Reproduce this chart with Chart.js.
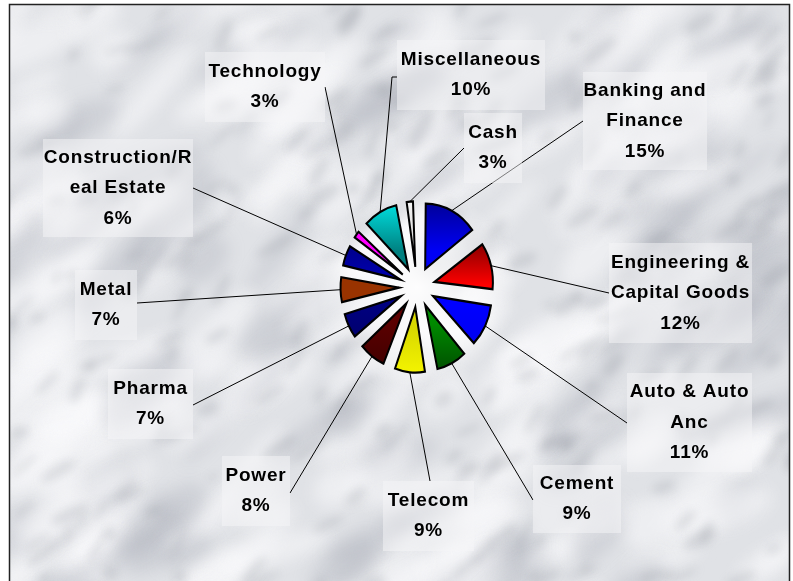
<!DOCTYPE html>
<html>
<head>
<meta charset="utf-8">
<script src="https://cdn.jsdelivr.net/npm/chart.js@4.4.0/dist/chart.umd.min.js"></script>
<style>
	html, body { margin: 0; padding: 0; background: #fff; }
</style>
</head>
<body>
<canvas id="grafico-torta" width="793" height="581"></canvas>
<script>
// dati
var categorie = ['Banking and Finance', 'Engineering & Capital Goods', 'Auto & Auto Anc', 'Cement', 'Telecom', 'Power', 'Pharma', 'Metal', 'Construction/Real Estate', 'Technology', 'Miscellaneous', 'Cash'];
var etichette = [['Banking and', 'Finance'], ['Engineering &', 'Capital Goods'], ['Auto & Auto', 'Anc'], ['Cement'], ['Telecom'], ['Power'], ['Pharma'], ['Metal'], ['Construction/R', 'eal Estate'], ['Technology'], ['Miscellaneous'], ['Cash']];
var percentuali = [15, 12, 11, 9, 9, 8, 7, 7, 6, 3, 10, 3];

// colori (alto -> basso della fetta)
var coloriAlto = ['#000078', '#7a0000', '#0000ff', '#008a00', '#d8d800', '#5c0000', '#000080', '#993300', '#000080', '#ff00ff', '#00ffff', '#ffffff'];
var coloriBasso = ['#0000f5', '#ff0000', '#0000ee', '#003c00', '#ffff00', '#3a0000', '#000068', '#993300', '#0000a8', '#ff00ff', '#008080', '#d8d8d8'];

// posizione dei riquadri delle etichette: x, y, w, h, punto di attacco della linea
var riquadri = [
	{ x: 583, y: 72, w: 124, h: 98, ax: 583, ay: 121 },
	{ x: 609, y: 243, w: 143, h: 100, ax: 609, ay: 293 },
	{ x: 627, y: 373, w: 125, h: 99, ax: 627, ay: 423 },
	{ x: 533, y: 465, w: 88, h: 68, ax: 533, ay: 500 },
	{ x: 383, y: 481, w: 91, h: 70, ax: 430, ay: 481 },
	{ x: 222, y: 456, w: 68, h: 70, ax: 290, ay: 493 },
	{ x: 108, y: 369, w: 85, h: 70, ax: 193, ay: 405 },
	{ x: 75, y: 270, w: 62, h: 70, ax: 137, ay: 303 },
	{ x: 43, y: 139, w: 150, h: 98, ax: 193, ay: 188 },
	{ x: 205, y: 52, w: 120, h: 70, ax: 325, ay: 87 },
	{ x: 397, y: 40, w: 148, h: 70, ax: 397, ay: 77 },
	{ x: 464, y: 113, w: 58, h: 70, ax: 464, ay: 148 }
];

var SPOSTAMENTO = 18;   // quanto escono le fette
var RAGGIO = 58.5;
var SCALA_Y = 1.12;     // la torta e' un po' schiacciata in orizzontale

var totale = 0;
for (var i = 0; i < percentuali.length; i++) {
	totale += percentuali[i];
}

function casuale(n) {
	var s = Math.sin(n * 127.1 + 311.7) * 43758.5453;
	return s - Math.floor(s);
}

function sfondoMarmo(ctx) {
	ctx.save();
	ctx.fillStyle = '#fff';
	ctx.fillRect(0, 0, 793, 581);
	ctx.beginPath();
	ctx.rect(10, 5, 779, 576);
	ctx.clip();
	ctx.fillStyle = '#e0e2e6';
	ctx.fillRect(10, 5, 779, 576);

	// chiazze grandi
	ctx.filter = 'blur(8px)';
	for (var i = 0; i < 260; i++) {
		var x = casuale(i) * 820 - 10;
		var y = casuale(i + 1000) * 620 - 10;
		var rx = 20 + casuale(i + 2000) * 55;
		var ry = 6 + casuale(i + 3000) * 16;
		ctx.save();
		ctx.translate(x, y);
		ctx.rotate(-0.62 + (casuale(i + 4000) - 0.5) * 0.7);
		ctx.beginPath();
		ctx.ellipse(0, 0, rx, ry, 0, 0, Math.PI * 2);
		ctx.fillStyle = i % 3 === 0 ? 'rgba(160,164,174,0.26)' : 'rgba(252,252,253,0.5)';
		ctx.fill();
		ctx.restore();
	}

	// venature leggere
	ctx.filter = 'blur(4px)';
	for (var j = 0; j < 260; j++) {
		var mx = casuale(j + 5000) * 800;
		var my = casuale(j + 6000) * 600;
		ctx.save();
		ctx.translate(mx, my);
		ctx.rotate(-0.7 + (casuale(j + 7000) - 0.5) * 0.9);
		ctx.beginPath();
		ctx.ellipse(0, 0, 6 + casuale(j + 8000) * 16, 2.5 + casuale(j + 9000) * 5, 0, 0, Math.PI * 2);
		ctx.fillStyle = 'rgba(140,145,156,0.22)';
		ctx.fill();
		ctx.restore();
	}
	ctx.filter = 'none';
	ctx.restore();

	ctx.save();
	ctx.strokeStyle = '#222';
	ctx.lineWidth = 1.5;
	ctx.beginPath();
	ctx.moveTo(9.5, 600);
	ctx.lineTo(9.5, 4.5);
	ctx.lineTo(789.5, 4.5);
	ctx.lineTo(789.5, 600);
	ctx.stroke();
	ctx.restore();
}

function coloreFetta(c) {
	var idx = c.dataIndex;
	var area = c.chart.chartArea;
	if (idx === undefined || !area) {
		return coloriAlto[0];
	}
	var cx = (area.left + area.right) / 2;
	var cy = (area.top + area.bottom) / 2;
	var prima = 0;
	for (var i = 0; i < idx; i++) {
		prima += percentuali[i];
	}
	var inizio = -Math.PI / 2 + prima / totale * Math.PI * 2;
	var fine = inizio + percentuali[idx] / totale * Math.PI * 2;
	var meta = (inizio + fine) / 2;
	var ox = cx + Math.cos(meta) * SPOSTAMENTO;
	var oy = cy + Math.sin(meta) * SPOSTAMENTO;
	var minY = oy, maxY = oy;
	for (var k = 0; k <= 12; k++) {
		var a = inizio + (fine - inizio) * k / 12;
		var y = oy + Math.sin(a) * RAGGIO;
		if (y < minY) minY = y;
		if (y > maxY) maxY = y;
	}
	var grad = c.chart.ctx.createLinearGradient(0, minY, 0, maxY + 0.01);
	grad.addColorStop(0, coloriAlto[idx]);
	grad.addColorStop(1, coloriBasso[idx]);
	return grad;
}

var pluginMarmo = {
	id: 'marmo',
	beforeDraw: function (chart) {
		sfondoMarmo(chart.ctx);
	},
	beforeDatasetsDraw: function (chart) {
		var ctx = chart.ctx;
		var area = chart.chartArea;
		var cx = (area.left + area.right) / 2;
		var cy = (area.top + area.bottom) / 2;

		// chart.js allarga il raggio delle fette piccole quando hanno offset: lo compenso
		var archi = chart.getDatasetMeta(0).data;
		for (var i = 0; i < archi.length; i++) {
			var fix = 1 - Math.sin(Math.min(Math.PI, archi[i].circumference));
			archi[i].outerRadius = RAGGIO - SPOSTAMENTO * fix;
		}

		ctx.save();
		var g = ctx.createRadialGradient(cx, cy, 0, cx, cy, 100);
		g.addColorStop(0, 'rgba(255,255,255,0.95)');
		g.addColorStop(0.6, 'rgba(255,255,255,0.6)');
		g.addColorStop(1, 'rgba(255,255,255,0)');
		ctx.fillStyle = g;
		ctx.beginPath();
		ctx.arc(cx, cy, 100, 0, Math.PI * 2);
		ctx.fill();
		ctx.restore();

		ctx.save();
		ctx.translate(cx, cy);
		ctx.scale(1, SCALA_Y);
		ctx.translate(-cx, -cy);
	},
	afterDatasetsDraw: function (chart) {
		chart.ctx.restore();
	},
	afterDraw: function (chart) {
		var ctx = chart.ctx;
		var archi = chart.getDatasetMeta(0).data;
		ctx.save();
		// linee
		ctx.strokeStyle = '#000';
		ctx.lineWidth = 1;
		for (var i = 0; i < archi.length; i++) {
			var arco = archi[i];
			var meta = (arco.startAngle + arco.endAngle) / 2;
			var d = SPOSTAMENTO + RAGGIO;
			var px = arco.x + Math.cos(meta) * d;
			var py = arco.y + Math.sin(meta) * d * SCALA_Y;
			var r = riquadri[i];
			ctx.beginPath();
			ctx.moveTo(px, py);
			if (i === 10) {
				ctx.lineTo(r.ax - 5, r.ay);
			}
			ctx.lineTo(r.ax, r.ay);
			ctx.stroke();
		}
		// riquadri e testi
		ctx.font = 'bold 19px "Liberation Sans", Arial, sans-serif';
		ctx.letterSpacing = '0.8px';
		ctx.textAlign = 'center';
		ctx.textBaseline = 'middle';
		for (var j = 0; j < riquadri.length; j++) {
			var q = riquadri[j];
			ctx.fillStyle = 'rgba(246,246,248,0.5)';
			ctx.fillRect(q.x, q.y, q.w, q.h);
			var righe = etichette[j].concat([percentuali[j] + '%']);
			var centroY = q.y + q.h / 2;
			ctx.fillStyle = '#000';
			for (var k = 0; k < righe.length; k++) {
				ctx.fillText(righe[k], q.x + q.w / 2, centroY + (k - (righe.length - 1) / 2) * 30.5);
			}
		}
		ctx.restore();
	}
};

var ctx = document.getElementById('grafico-torta');
var chart = new Chart(ctx, {
	type: 'pie',
	data: {
		labels: categorie,
		datasets: [{
			data: percentuali,
			backgroundColor: coloreFetta,
			borderColor: '#000',
			borderWidth: 2,
			borderJoinStyle: 'miter',
			offset: 4 * SPOSTAMENTO,
			hoverOffset: 0
		}]
	},
	options: {
		responsive: false,
		devicePixelRatio: 1,
		animation: false,
		events: [],
		radius: RAGGIO,
		layout: { padding: { left: 41, right: 0, top: 0, bottom: 7 } },
		plugins: {
			legend: { display: false },
			tooltip: { enabled: false }
		}
	},
	plugins: [pluginMarmo]
});
</script>
</body>
</html>
